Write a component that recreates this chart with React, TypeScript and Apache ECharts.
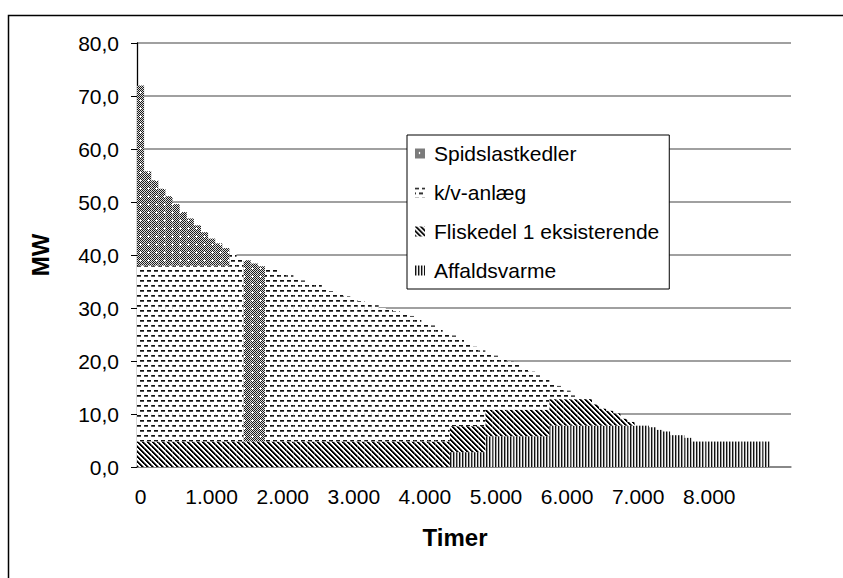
import React, { useEffect, useRef } from "react";
import * as echarts from "echarts";

// 100-hour bins (categories); the axis holds 92 bins, data fills the first 89
const hourBins = Array.from({ length: 92 }, (_, i) => String(i * 100));
const xTickLabels = ["0", "1.000", "2.000", "3.000", "4.000", "5.000", "6.000", "7.000", "8.000"];

const seriesNames = ["Spidslastkedler", "k/v-anlæg", "Fliskedel 1 eksisterende", "Affaldsvarme"];

// MW per bin
const affaldsvarme = [
  0, 0, 0, 0, 0, 0, 0, 0, 0, 0,
  0, 0, 0, 0, 0, 0, 0, 0, 0, 0,
  0, 0, 0, 0, 0, 0, 0, 0, 0, 0,
  0, 0, 0, 0, 0, 0, 0, 0, 0, 0,
  0, 0, 0, 0, 2.8, 2.8, 2.8, 2.8, 2.8, 5.8,
  5.8, 5.8, 5.8, 5.8, 5.8, 5.8, 5.8, 5.8, 7.8, 7.8,
  7.8, 7.8, 7.8, 7.8, 7.8, 7.8, 7.8, 7.8, 7.8, 7.8,
  7.8, 7.8, 7.5, 7.0, 6.7, 6.0, 6.0, 5.5, 4.8, 4.8,
  4.8, 4.8, 4.8, 4.8, 4.8, 4.8, 4.8, 4.8, 4.8,
];

const fliskedel = [
  4.8, 4.8, 4.8, 4.8, 4.8, 4.8, 4.8, 4.8, 4.8, 4.8,
  4.8, 4.8, 4.8, 4.8, 4.8, 4.8, 4.8, 4.8, 4.8, 4.8,
  4.8, 4.8, 4.8, 4.8, 4.8, 4.8, 4.8, 4.8, 4.8, 4.8,
  4.8, 4.8, 4.8, 4.8, 4.8, 4.8, 4.8, 4.8, 4.8, 4.8,
  4.8, 4.8, 4.8, 4.8, 4.9, 4.9, 4.9, 4.9, 4.9, 5.0,
  5.0, 5.0, 5.0, 5.0, 5.0, 5.0, 5.0, 5.0, 5.0, 5.0,
  5.0, 5.0, 5.0, 5.0, 4.0, 3.2, 2.8, 2.3, 1.3, 0.7,
  0, 0, 0, 0, 0, 0, 0, 0, 0, 0,
  0, 0, 0, 0, 0, 0, 0, 0, 0,
];

const kvAnlaeg = [
  33.2, 33.2, 33.2, 33.2, 33.2, 33.2, 33.2, 33.2, 33.2, 33.2,
  33.2, 33.2, 33.2, 35.5, 34.6, 0, 0, 0, 32.9, 32.6,
  32.0, 31.4, 30.9, 30.4, 30.1, 29.6, 29.0, 28.4, 27.9, 27.4,
  27.0, 26.5, 26.0, 25.7, 25.2, 25.0, 24.6, 24.2, 23.7, 23.1,
  22.5, 21.9, 21.3, 20.6, 17.1, 16.4, 15.7, 15.0, 14.3, 10.7,
  10.2, 9.6, 9.1, 8.5, 7.8, 7.2, 6.5, 5.8, 3.2, 2.5,
  1.6, 0.7, 0, 0, 0, 0, 0, 0, 0, 0,
  0, 0, 0, 0, 0, 0, 0, 0, 0, 0,
  0, 0, 0, 0, 0, 0, 0, 0, 0,
];

const spidslast = [
  34.0, 17.8, 16.1, 14.5, 13.1, 11.6, 10.1, 8.9, 7.6, 6.3,
  5.1, 4.2, 3.3, 0, 0, 34.2, 33.6, 33.1, 0, 0,
  0, 0, 0, 0, 0, 0, 0, 0, 0, 0,
  0, 0, 0, 0, 0, 0, 0, 0, 0, 0,
  0, 0, 0, 0, 0, 0, 0, 0, 0, 0,
  0, 0, 0, 0, 0, 0, 0, 0, 0, 0,
  0, 0, 0, 0, 0, 0, 0, 0, 0, 0,
  0, 0, 0, 0, 0, 0, 0, 0, 0, 0,
  0, 0, 0, 0, 0, 0, 0, 0, 0,
];

const FONT = "'Liberation Sans', Arial, sans-serif";

function makeTile(w: number, h: number, fn: (x: number, y: number) => string) {
  const c = document.createElement("canvas");
  c.width = w;
  c.height = h;
  const ctx = c.getContext("2d")!;
  for (let y = 0; y < h; y++) {
    for (let x = 0; x < w; x++) {
      ctx.fillStyle = fn(x, y);
      ctx.fillRect(x, y, 1, 1);
    }
  }
  return { image: c.toDataURL(), repeat: "repeat", imageWidth: w, imageHeight: h };
}

export default function App() {
  const ref = useRef<HTMLDivElement>(null);

  useEffect(() => {
    if (!ref.current) return;
    const chart = echarts.init(ref.current, null, { renderer: "svg" });

    const checker = makeTile(8, 8, (x, y) => {
      const cross =
        (x === 4 && y >= 3 && y <= 5) || (y === 4 && x >= 3 && x <= 5);
      if (cross) return "#ffffff";
      return (x + y) % 2 === 0 ? "#1a1a1a" : "#dcdcdc";
    });
    const dashes = makeTile(14, 10, (x, y) => {
      const a = x % 7;
      const b = (x + 3) % 7;
      if (y === 0 && a < 4) return "#111111";
      if (y === 1 && a < 4) return "#555555";
      if (y === 5 && b < 4) return "#111111";
      if (y === 6 && b < 4) return "#555555";
      return "#ffffff";
    });
    const diagonal = makeTile(5, 5, (x, y) => {
      const d = (((x - y) % 5) + 5) % 5;
      if (d === 0 || d === 1) return "#000000";
      if (d === 2) return "#777777";
      return "#ffffff";
    });
    const vertical = makeTile(3, 3, (x) => {
      if (x === 0) return "#111111";
      if (x === 1) return "#999999";
      return "#f4f4f4";
    });

    const barBase = {
      type: "bar",
      stack: "total",
      barCategoryGap: "0%",
      silent: true,
      emphasis: { disabled: true },
    };

    const option: any = {
      animation: false,
      backgroundColor: "#ffffff",
      grid: { left: 137, top: 43, right: 52, bottom: 111, containLabel: false },
      legend: {
        orient: "vertical",
        left: 407,
        top: 135,
        data: seriesNames,
        icon: "path://M0,0H10V10H0Z M13.9,0H14V0.1H13.9Z",
        itemWidth: 14,
        itemHeight: 10,
        itemGap: 18,
        padding: [8, 10, 8, 8],
        borderColor: "#000000",
        borderWidth: 1,
        backgroundColor: "#ffffff",
        selectedMode: false,
        textStyle: { fontFamily: FONT, fontSize: 21, color: "#000000", lineHeight: 20 },
      },
      xAxis: {
        type: "category",
        data: hourBins,
        boundaryGap: true,
        axisLine: { lineStyle: { color: "#808080", width: 1.5 } },
        axisTick: { interval: 0, length: 6, lineStyle: { color: "#000000", width: 1 } },
        axisLabel: {
          interval: 0,
          fontFamily: FONT,
          fontSize: 21,
          color: "#000000",
          margin: 19,
          formatter: (_v: string, i: number) =>
            i % 10 === 0 && i / 10 < xTickLabels.length ? xTickLabels[i / 10] : "",
        },
        splitLine: { show: false },
      },
      yAxis: {
        type: "value",
        min: 0,
        max: 80,
        interval: 10,
        axisLine: { show: true, lineStyle: { color: "#000000", width: 1.3 } },
        axisTick: { show: true, length: 6, lineStyle: { color: "#000000" } },
        axisLabel: {
          fontFamily: FONT,
          fontSize: 21,
          color: "#000000",
          margin: 18,
          formatter: (v: number) => v.toFixed(1).replace(".", ","),
        },
        splitLine: { lineStyle: { color: "#808080", width: 1.5 } },
      },
      graphic: [
        {
          type: "rect",
          z: -10,
          shape: { x: 8.5, y: 15.5, width: 1000, height: 1000 },
          style: { fill: "none", stroke: "#000000", lineWidth: 1.5 },
        },
        {
          type: "text",
          x: 40,
          y: 255,
          rotation: Math.PI / 2,
          style: {
            text: "MW",
            font: `bold 24px ${FONT}`,
            fill: "#000000",
            align: "center",
            verticalAlign: "middle",
          },
        },
        {
          type: "text",
          x: 455,
          y: 537,
          style: {
            text: "Timer",
            font: `bold 24px ${FONT}`,
            fill: "#000000",
            align: "center",
            verticalAlign: "middle",
          },
        },
      ],
      series: [
        { ...barBase, name: seriesNames[3], data: affaldsvarme, itemStyle: { color: vertical } },
        { ...barBase, name: seriesNames[2], data: fliskedel, itemStyle: { color: diagonal } },
        { ...barBase, name: seriesNames[1], data: kvAnlaeg, itemStyle: { color: dashes } },
        { ...barBase, name: seriesNames[0], data: spidslast, itemStyle: { color: checker } },
      ],
    };

    chart.setOption(option);
    return () => chart.dispose();
  }, []);

  return (
    <div
      ref={ref}
      style={{ position: "fixed", left: 0, top: 0, width: 843, height: 578 }}
    />
  );
}
